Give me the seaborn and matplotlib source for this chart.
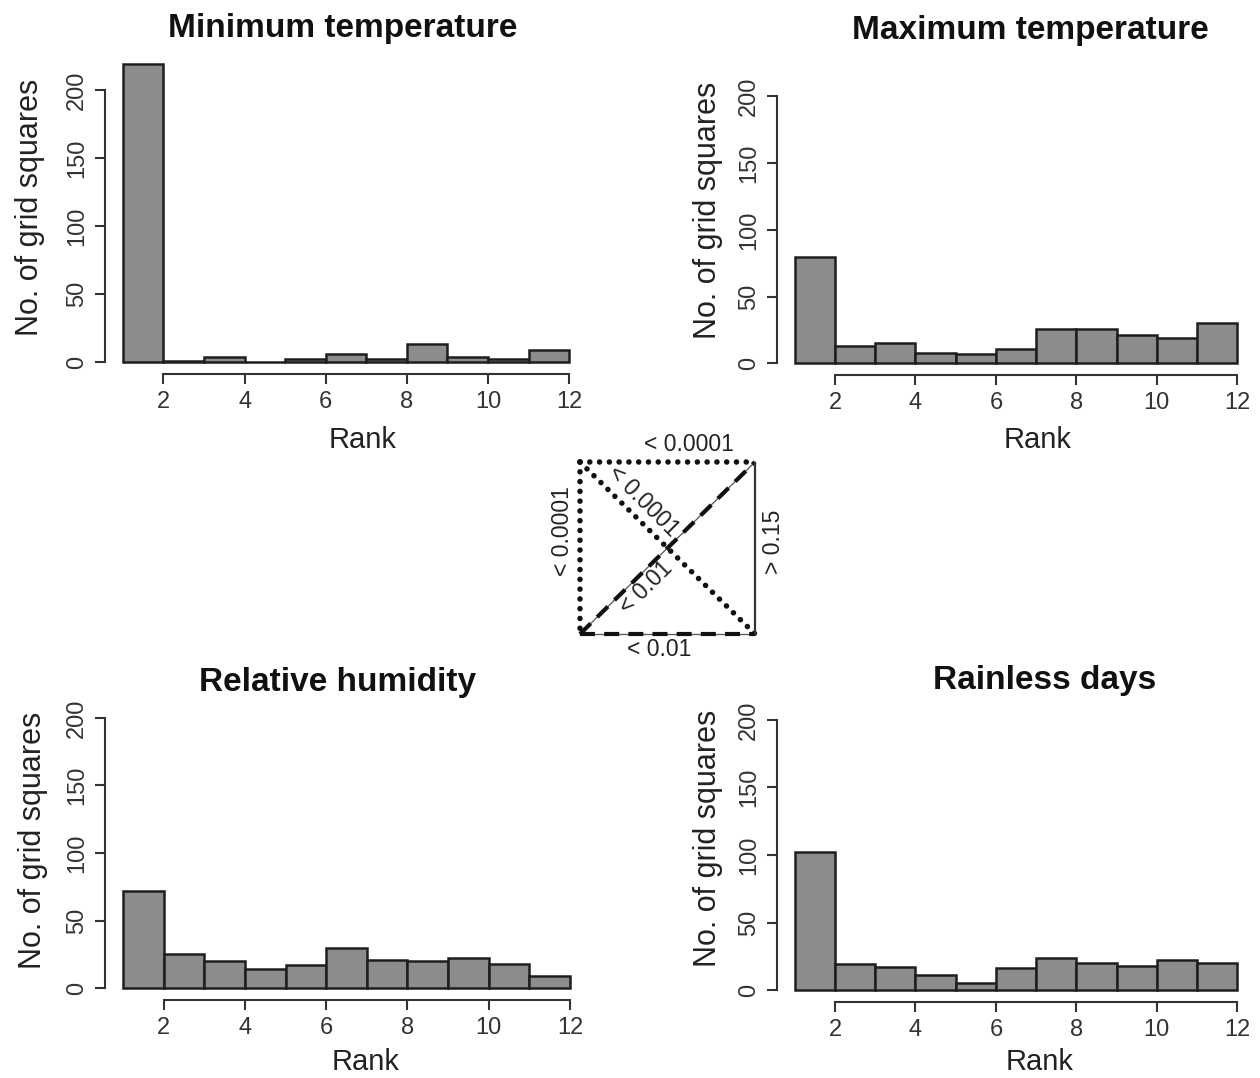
import matplotlib
matplotlib.use("Agg")
import matplotlib.pyplot as plt
import seaborn as sns
import numpy as np

# counts per rank bin (bins 1-2, 2-3, ..., 11-12)
rank_edges = [1, 2, 3, 4, 5, 6, 7, 8, 9, 10, 11, 12]
min_temp = [219, 1, 4, 0, 2, 6, 2, 13, 4, 2, 9]
max_temp = [80, 13, 15, 8, 7, 11, 26, 26, 21, 19, 30]
rel_hum = [72, 25, 20, 14, 17, 30, 21, 20, 22, 18, 9]
rainless = [102, 19, 17, 11, 5, 16, 24, 20, 18, 22, 20]

titles = ["Minimum temperature", "Maximum temperature", "Relative humidity", "Rainless days"]
x_ticks = [2, 4, 6, 8, 10, 12]
y_ticks = [0, 50, 100, 150, 200]

# pairwise p-values between the four panels (diagram in the middle)
pairs = [("min", "max", "< 0.0001"),
         ("min", "rh", "< 0.0001"),
         ("min", "rain", "< 0.0001"),
         ("rh", "max", "< 0.01"),
         ("rh", "rain", "< 0.01"),
         ("max", "rain", "> 0.15")]

W, H = 1260, 1078
sns.set_theme(style="white")
plt.rcParams['font.family'] = ['Liberation Sans', 'DejaVu Sans']

fig = plt.figure(figsize=(W / 100, H / 100), dpi=100)


def px_rect(left, top, right, bottom):
    return [left / W, 1 - bottom / H, (right - left) / W, (bottom - top) / H]


def fx(x):
    return x / W


def fy(y):
    return 1 - y / H


# panel boxes in pixels: box, title pos, ylabel pos, xlabel pos
panels = [
    (min_temp, (105, 51, 587, 374), (343, 28), (30, 207), (363, 440)),
    (max_temp, (777, 58, 1255, 375), (1030, 30), (708, 210), (1038, 440)),
    (rel_hum, (105, 679, 588, 1000), (338, 683), (33, 840), (366, 1062)),
    (rainless, (777, 681, 1255, 1002), (1045, 680), (708, 838), (1040, 1062)),
]

centers = np.array(rank_edges[:-1]) + 0.5

for (counts, box, tpos, ylpos, xlpos), title in zip(panels, titles):
    ax = fig.add_axes(px_rect(*box))
    sns.histplot(x=centers, weights=counts, bins=rank_edges, ax=ax,
                 color="#8c8c8c", edgecolor="#1e1e1e", linewidth=1.8, alpha=1)
    ax.set_xlim(0.56, 12.44)
    ax.set_ylim(-8.8, 228.8)
    ax.set_xticks(x_ticks)
    ax.set_yticks(y_ticks)
    for side in ["top", "right"]:
        ax.spines[side].set_visible(False)
    ax.spines["left"].set_bounds(0, 200)
    ax.spines["bottom"].set_bounds(2, 12)
    for side in ["left", "bottom"]:
        ax.spines[side].set_color("#333333")
        ax.spines[side].set_linewidth(1.5)
    ax.tick_params(axis="both", direction="out", length=7, width=1.5,
                   color="#333333", labelsize=17, labelcolor="#333333",
                   left=True, bottom=True)
    ax.tick_params(axis="x", pad=5)
    ax.tick_params(axis="y", pad=5)
    for lab in ax.get_yticklabels():
        lab.set_rotation(90)
        lab.set_va("center")
    ax.set_ylabel("No. of grid squares", fontsize=22, color="#222222")
    ax.set_xlabel("Rank", fontsize=21, color="#222222")
    ax.yaxis.set_label_coords(fx(ylpos[0]), fy(ylpos[1]), transform=fig.transFigure)
    ax.xaxis.set_label_coords(fx(xlpos[0]), fy(xlpos[1]), transform=fig.transFigure)
    ax.yaxis.label.set_va("center")
    ax.xaxis.label.set_va("center")
    ax.grid(False)
    fig.text(fx(tpos[0]), fy(tpos[1]), title, ha="center", va="center",
             fontsize=24, fontweight="bold", color="#111111")

# central significance diagram
dax = fig.add_axes(px_rect(580, 462, 755, 634))
dax.set_xlim(0, 1)
dax.set_ylim(0, 1)
dax.axis("off")

corner = {"min": (0, 1), "max": (1, 1), "rh": (0, 0), "rain": (1, 0)}
styles = {
    "< 0.0001": dict(linestyle=(0, (0.01, 1.75)), linewidth=4, color="#111111",
                     dash_capstyle="round", underlay=False),
    "< 0.01": dict(linestyle=(0, (3.6, 2.2)), linewidth=3, color="#111111",
                   dash_capstyle="butt", underlay=True),
    "> 0.15": dict(linestyle="-", linewidth=1.6, color="#333333",
                   dash_capstyle="butt", underlay=False),
}
# label placement (axes coords) and rotation for each pair
label_pos = {
    ("min", "max"): (0.62, 1.10, 0),
    ("min", "rh"): (-0.10, 0.60, 90),
    ("min", "rain"): (0.36, 0.77, -45),
    ("rh", "max"): (0.38, 0.27, 45),
    ("rh", "rain"): (0.45, -0.09, 0),
    ("max", "rain"): (1.107, 0.535, 90),
}

for a, b, p in pairs:
    (x0, y0), (x1, y1) = corner[a], corner[b]
    st = dict(styles[p])
    under = st.pop("underlay")
    if under:
        dax.plot([x0, x1], [y0, y1], color="#555555", linewidth=0.9, clip_on=False)
    dax.plot([x0, x1], [y0, y1], clip_on=False, solid_capstyle="butt", **st)
    lx, ly, rot = label_pos[(a, b)]
    dax.text(lx, ly, p, ha="center", va="center", rotation=rot, fontsize=16.5,
             color="#222222", rotation_mode="anchor")

fig.savefig("out.png", dpi=100)
